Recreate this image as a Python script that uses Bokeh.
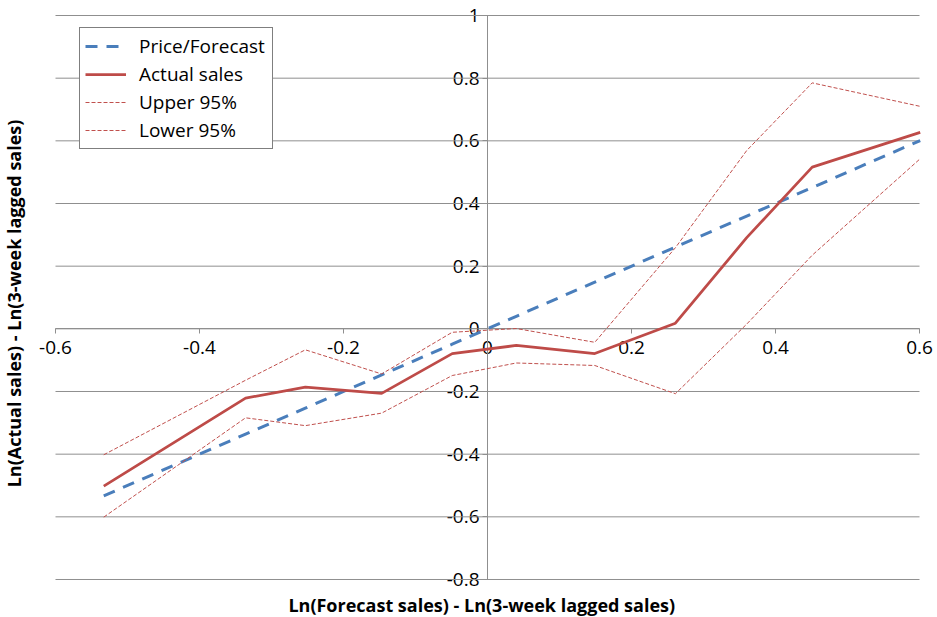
import math
from bokeh.plotting import figure
from bokeh.models import (Range1d, LinearAxis, FixedTicker, Legend,
                          LegendItem, Label)
from bokeh.embed import file_html
from bokeh.resources import INLINE

# ---- data ----
x_vals = [-0.533, -0.336, -0.253, -0.147, -0.049, 0.040, 0.149, 0.261, 0.360, 0.451, 0.601]
price_forecast = [-0.533, -0.336, -0.253, -0.147, -0.049, 0.040, 0.149, 0.261, 0.360, 0.451, 0.601]
actual_sales = [-0.502, -0.221, -0.186, -0.206, -0.079, -0.053, -0.079, 0.018, 0.291, 0.516, 0.627]
upper_95 = [-0.402, -0.164, -0.067, -0.144, -0.011, 0.001, -0.043, 0.259, 0.569, 0.785, 0.710]
lower_95 = [-0.601, -0.284, -0.309, -0.269, -0.149, -0.109, -0.117, -0.207, 0.015, 0.235, 0.543]

x_ticks = [-0.6, -0.4, -0.2, 0, 0.2, 0.4, 0.6]
x_tick_labels = ["-0.6", "-0.4", "-0.2", "0", "0.2", "0.4", "0.6"]
y_ticks = [-0.8, -0.6, -0.4, -0.2, 0, 0.2, 0.4, 0.6, 0.8, 1]
y_tick_labels = ["-0.8", "-0.6", "-0.4", "-0.2", "0", "0.2", "0.4", "0.6", "0.8", "1"]

x_title = "Ln(Forecast sales) - Ln(3-week lagged sales)"
y_title = "Ln(Actual sales) - Ln(3-week lagged sales)"
series_names = ["Price/Forecast", "Actual sales", "Upper 95%", "Lower 95%"]

FONT = "Open Sans"
GRAY = "#8f8f8f"
BLUE = "#4A7EBB"
RED = "#BE4B48"
RED_THIN = "#C0504D"

W, H = 937, 617
# the frame covers the whole canvas; ranges chosen so that the plot area
# (-0.6..0.6, -0.8..1) sits where the reference draws it
x_range = Range1d(-0.6764, 0.6250)
y_range = Range1d(-0.9213, 1.0479)

p = figure(width=W, height=H, x_range=x_range, y_range=y_range,
           x_axis_type=None, y_axis_type=None,
           toolbar_location=None, output_backend="svg",
           min_border=0, min_border_left=0, min_border_right=0,
           min_border_top=0, min_border_bottom=0)
p.outline_line_color = None
p.background_fill_color = "white"
p.border_fill_color = "white"

# horizontal gridlines across the plot area
p.segment(x0=x_ticks[0], x1=x_ticks[-1], y0=y_ticks, y1=y_ticks,
          line_color=GRAY, line_width=1)

# axes crossing at zero
xaxis = LinearAxis(fixed_location=0, ticker=FixedTicker(ticks=x_ticks),
                   bounds=(x_ticks[0], x_ticks[-1]),
                   major_label_overrides=dict(zip(x_ticks, x_tick_labels)),
                   axis_line_color=GRAY, major_tick_line_color=GRAY,
                   major_tick_out=5, major_tick_in=0,
                   minor_tick_out=0, minor_tick_in=0,
                   major_label_standoff=7,
                   major_label_text_font=FONT,
                   major_label_text_font_size="19px",
                   major_label_text_color="black")
xaxis.level = "underlay"
p.add_layout(xaxis, "below")

yaxis = LinearAxis(fixed_location=0, ticker=FixedTicker(ticks=y_ticks),
                   bounds=(y_ticks[0], y_ticks[-1]),
                   major_label_overrides=dict(zip(y_ticks, y_tick_labels)),
                   axis_line_color=GRAY, major_tick_line_color=GRAY,
                   major_tick_out=5, major_tick_in=0,
                   minor_tick_out=0, minor_tick_in=0,
                   major_label_standoff=3,
                   major_label_text_font=FONT,
                   major_label_text_font_size="19px",
                   major_label_text_color="black")
yaxis.level = "underlay"
p.add_layout(yaxis, "left")

# series
r_pf = p.line(x_vals, price_forecast, line_color=BLUE, line_width=3, line_dash="12 9")
r_act = p.line(x_vals, actual_sales, line_color=RED, line_width=2.75)
r_up = p.line(x_vals, upper_95, line_color=RED_THIN, line_width=1, line_dash="4 2")
r_lo = p.line(x_vals, lower_95, line_color=RED_THIN, line_width=1, line_dash="4 2")

legend = Legend(items=[LegendItem(label=series_names[0], renderers=[r_pf]),
                       LegendItem(label=series_names[1], renderers=[r_act]),
                       LegendItem(label=series_names[2], renderers=[r_up]),
                       LegendItem(label=series_names[3], renderers=[r_lo])],
                location=(79, 468),
                border_line_color="black", border_line_width=1,
                background_fill_color="white", background_fill_alpha=1,
                label_text_font=FONT, label_text_font_size="19px",
                label_text_color="black",
                glyph_width=41, glyph_height=24, label_height=24,
                label_width=128,
                label_standoff=13, spacing=2, padding=5, margin=0)
p.add_layout(legend)

# axis titles
p.add_layout(Label(x=-0.008, y=-0.883, text=x_title, text_font=FONT,
                   text_font_size="18px", text_font_style="bold",
                   text_color="black", text_align="center",
                   text_baseline="alphabetic"))
p.add_layout(Label(x=-0.657, y=0.081, text=y_title, text_font=FONT,
                   text_font_size="18px", text_font_style="bold",
                   text_color="black", text_align="center",
                   text_baseline="alphabetic", angle=math.pi / 2))

open("out.html", "w").write(file_html(p, INLINE))
